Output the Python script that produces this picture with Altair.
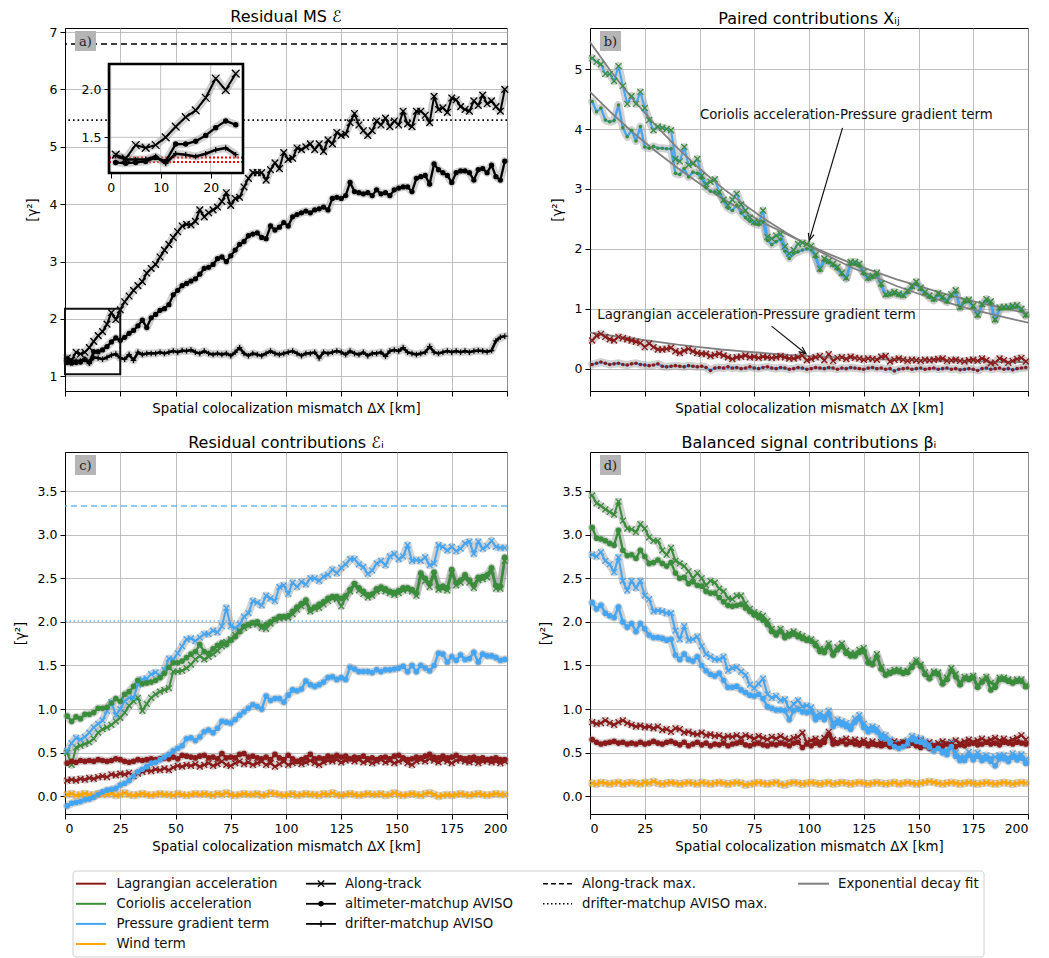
import math
import altair as alt
import pandas as pd

# ------------------------------------------------------------------ data
X_KM = list(range(1, 200, 2))          # colocalization mismatch [km]
X_TICKS = [0, 25, 50, 75, 100, 125, 150, 175, 200]

# ---- panel a : residual MS
A_ALONG = [1.32,1.28,1.42,1.39,1.42,1.50,1.61,1.71,1.78,1.91,
           2.11,1.99,2.16,2.30,2.40,2.50,2.58,2.65,2.80,2.88,
           2.95,3.08,3.20,3.30,3.42,3.52,3.62,3.65,3.64,3.70,
           3.90,3.78,3.85,3.90,3.95,4.05,4.20,3.98,4.10,4.12,
           4.30,4.45,4.55,4.55,4.55,4.42,4.60,4.72,4.62,4.90,
           4.78,4.80,4.98,4.95,5.00,5.05,4.95,5.05,4.92,5.12,
           5.05,5.25,5.20,5.22,5.42,5.58,5.38,5.28,5.20,5.28,
           5.45,5.38,5.50,5.35,5.45,5.38,5.62,5.40,5.35,5.62,
           5.62,5.55,5.42,5.88,5.65,5.68,5.60,5.85,5.82,5.70,
           5.65,5.62,5.80,5.72,5.90,5.75,5.80,5.70,5.62,6.00]
A_ALTI = [1.24,1.23,1.24,1.25,1.29,1.25,1.43,1.43,1.46,1.52,
          1.60,1.67,1.63,1.68,1.75,1.80,1.88,1.98,1.85,2.02,
          2.08,2.15,2.18,2.25,2.42,2.50,2.58,2.62,2.66,2.70,
          2.78,2.88,2.90,2.95,3.05,3.08,3.00,3.10,3.20,3.30,
          3.35,3.45,3.48,3.50,3.42,3.40,3.62,3.55,3.60,3.68,
          3.62,3.78,3.82,3.85,3.88,3.85,3.90,3.92,3.95,3.90,
          4.10,4.12,4.10,4.15,4.38,4.22,4.20,4.18,4.20,4.15,
          4.25,4.18,4.20,4.15,4.25,4.28,4.30,4.30,4.22,4.45,
          4.48,4.50,4.35,4.70,4.60,4.55,4.50,4.38,4.55,4.58,
          4.58,4.55,4.42,4.60,4.62,4.55,4.68,4.48,4.42,4.75]
A_DRIFT = [1.31,1.27,1.27,1.27,1.30,1.23,1.33,1.32,1.30,1.33,
           1.37,1.39,1.32,1.30,1.38,1.28,1.42,1.38,1.40,1.40,
           1.40,1.42,1.40,1.42,1.44,1.42,1.45,1.44,1.46,1.42,
           1.40,1.44,1.40,1.38,1.40,1.38,1.40,1.36,1.42,1.50,
           1.40,1.36,1.40,1.38,1.36,1.40,1.44,1.40,1.38,1.40,
           1.42,1.44,1.40,1.36,1.40,1.40,1.42,1.32,1.42,1.40,
           1.42,1.44,1.42,1.38,1.44,1.40,1.38,1.42,1.36,1.40,
           1.40,1.42,1.35,1.44,1.46,1.44,1.50,1.42,1.40,1.38,
           1.40,1.42,1.52,1.42,1.40,1.42,1.44,1.42,1.44,1.42,
           1.44,1.42,1.44,1.45,1.44,1.43,1.45,1.62,1.68,1.70]
A_ALONG_MAX = 6.79
A_DRIFT_MAX = 5.465
A_INSET_REF = [1.29, 1.245]
A_ZOOM = {"x": 0, "x2": 25, "y": 1.035, "y2": 2.18}
INSET_X_TICKS = [0, 10, 20]
INSET_Y_TICKS = [1.5, 2.0]

# ---- panel b : paired contributions
B_CP_ALONG = [5.18,5.12,5.08,4.92,4.92,4.80,5.05,4.72,4.42,4.55,
              4.42,4.62,4.35,4.15,3.98,4.04,4.02,4.00,3.98,3.50,
              3.46,3.70,3.40,3.42,3.50,3.22,3.08,3.12,3.16,2.95,
              2.82,2.73,2.82,2.92,2.74,2.64,2.52,2.45,2.44,2.64,
              2.20,2.17,2.22,2.25,2.04,1.92,1.98,2.08,2.10,2.08,
              2.05,1.90,1.67,1.84,1.80,1.75,1.70,1.60,1.52,1.78,
              1.78,1.75,1.62,1.52,1.55,1.60,1.42,1.24,1.26,1.28,
              1.25,1.23,1.30,1.38,1.45,1.35,1.28,1.22,1.17,1.26,
              1.20,1.14,1.24,1.31,1.03,1.14,1.15,1.05,0.90,1.08,
              1.16,1.12,0.82,1.02,1.03,1.03,1.05,1.06,1.00,0.90]
B_CP_ALTI = [4.46,4.29,4.35,4.15,4.12,4.14,4.40,4.02,3.87,3.98,
             3.80,4.04,3.70,3.68,3.71,3.68,3.68,3.67,3.67,3.26,
             3.24,3.34,3.20,3.28,3.26,3.18,3.02,2.96,2.95,2.93,
             2.80,2.68,2.64,2.73,2.60,2.52,2.46,2.42,2.40,2.45,
             2.14,2.07,2.12,2.16,1.96,1.84,1.92,1.95,1.98,2.00,
             1.98,1.86,1.64,1.80,1.77,1.72,1.66,1.57,1.50,1.74,
             1.74,1.71,1.58,1.49,1.52,1.56,1.38,1.22,1.23,1.25,
             1.22,1.21,1.27,1.35,1.41,1.32,1.25,1.19,1.14,1.23,
             1.17,1.11,1.21,1.27,1.01,1.11,1.12,1.02,0.88,1.05,
             1.13,1.08,0.80,0.99,1.00,1.00,1.02,1.03,0.97,0.88]
B_LP_ALONG = [0.47,0.55,0.58,0.53,0.49,0.47,0.53,0.51,0.49,0.47,
              0.45,0.43,0.36,0.42,0.36,0.32,0.32,0.33,0.35,0.29,
              0.26,0.30,0.33,0.29,0.26,0.25,0.25,0.21,0.23,0.25,
              0.22,0.19,0.16,0.19,0.20,0.22,0.19,0.20,0.18,0.20,
              0.19,0.18,0.19,0.21,0.19,0.17,0.17,0.19,0.22,0.14,
              0.16,0.19,0.21,0.14,0.24,0.13,0.18,0.19,0.16,0.20,
              0.18,0.17,0.15,0.17,0.16,0.15,0.20,0.21,0.12,0.15,
              0.17,0.15,0.13,0.15,0.14,0.13,0.15,0.14,0.15,0.16,
              0.17,0.13,0.14,0.15,0.13,0.12,0.14,0.15,0.13,0.17,
              0.14,0.09,0.10,0.17,0.14,0.10,0.13,0.16,0.18,0.12]
B_LP_ALTI = [0.07,0.09,0.11,0.09,0.07,0.08,0.09,0.07,0.06,0.08,
             0.09,0.07,0.06,0.05,0.06,0.08,0.04,0.03,0.04,0.05,
             0.04,0.03,0.05,0.04,0.03,0.04,0.02,-0.03,0.01,0.02,
             0.01,0.03,0.01,0.02,0.00,0.01,0.03,0.01,0.00,0.02,
             0.03,0.01,0.00,0.02,0.01,-0.01,0.00,0.02,0.01,-0.01,
             0.00,0.02,0.01,0.00,0.02,0.01,-0.01,0.01,0.00,0.02,
             0.01,0.00,-0.01,0.01,0.02,0.00,0.01,-0.01,0.00,-0.04,
             -0.01,0.00,0.01,-0.01,0.00,0.01,-0.01,0.00,0.01,-0.01,
             0.00,0.01,-0.01,0.00,-0.02,-0.01,0.00,-0.01,-0.03,0.00,
             0.01,-0.01,0.00,0.01,-0.01,0.00,-0.02,0.00,0.01,0.02]
FIT_KM = list(range(0, 201, 10))
FIT_CP_ALONG = [5.45,4.94,4.48,4.06,3.68,3.34,3.03,2.75,2.49,2.26,2.05,
                1.86,1.68,1.53,1.38,1.25,1.14,1.03,0.94,0.85,0.77]
FIT_CP_ALTI = [4.62,4.26,3.93,3.63,3.35,3.09,2.85,2.63,2.42,2.24,2.06,
               1.90,1.75,1.62,1.49,1.38,1.27,1.17,1.08,1.00,0.92]
FIT_LP_ALONG = [0.60,0.55,0.50,0.45,0.40,0.36,0.32,0.29,0.26,0.23,0.21,
                0.19,0.17,0.16,0.15,0.14,0.13,0.12,0.12,0.11,0.11]
B_TEXT = ["Coriolis acceleration-Pressure gradient term",
          "Lagrangian acceleration-Pressure gradient term"]
B_TEXT_X = [50.2, 3.3]
B_TEXT_Y = [4.24, 0.90]
B_ARROW_FROM = [(115.3, 4.02), (82.9, 0.71)]
B_ARROW_TO = [(100.1, 2.14), (98.6, 0.25)]

# ---- panel c : residual contributions
C_LAG_ALTI = [0.38,0.40,0.39,0.41,0.40,0.41,0.40,0.42,0.41,0.40,
              0.41,0.43,0.42,0.40,0.39,0.40,0.42,0.41,0.42,0.43,
              0.42,0.43,0.44,0.43,0.45,0.43,0.47,0.46,0.45,0.44,
              0.46,0.47,0.44,0.45,0.43,0.49,0.44,0.45,0.44,0.48,
              0.49,0.45,0.46,0.44,0.43,0.45,0.42,0.48,0.44,0.42,
              0.47,0.43,0.40,0.42,0.44,0.48,0.43,0.44,0.43,0.46,
              0.45,0.47,0.45,0.46,0.43,0.45,0.44,0.46,0.43,0.44,
              0.42,0.44,0.45,0.43,0.46,0.47,0.44,0.42,0.43,0.45,
              0.44,0.46,0.48,0.45,0.44,0.46,0.44,0.45,0.47,0.44,
              0.43,0.44,0.45,0.43,0.44,0.42,0.43,0.44,0.42,0.42]
C_LAG_ALONG = [0.18,0.19,0.18,0.20,0.19,0.21,0.20,0.22,0.23,0.22,
               0.25,0.24,0.26,0.25,0.27,0.23,0.26,0.28,0.30,0.29,
               0.31,0.30,0.32,0.30,0.33,0.35,0.34,0.36,0.35,0.37,
               0.34,0.36,0.38,0.35,0.37,0.40,0.36,0.35,0.38,0.40,
               0.37,0.39,0.36,0.38,0.40,0.36,0.38,0.34,0.37,0.40,
               0.36,0.38,0.40,0.37,0.39,0.41,0.38,0.36,0.39,0.41,
               0.40,0.42,0.39,0.41,0.43,0.40,0.42,0.39,0.41,0.38,
               0.40,0.42,0.39,0.41,0.38,0.40,0.42,0.38,0.36,0.40,
               0.42,0.40,0.43,0.41,0.39,0.42,0.40,0.38,0.41,0.42,
               0.40,0.39,0.41,0.38,0.40,0.41,0.39,0.40,0.38,0.40]
C_COR_ALTI = [0.92,0.86,0.91,0.89,0.94,0.94,0.96,1.01,1.01,1.02,
              1.07,1.12,1.09,1.17,1.20,1.26,1.33,1.29,1.30,1.31,
              1.33,1.36,1.41,1.48,1.53,1.53,1.55,1.59,1.63,1.66,
              1.74,1.66,1.64,1.69,1.73,1.76,1.74,1.79,1.83,1.89,
              1.95,1.97,1.99,2.00,1.95,1.97,2.00,2.03,2.06,2.06,
              2.07,2.12,2.17,2.21,2.25,2.14,2.17,2.20,2.23,2.27,
              2.29,2.29,2.27,2.30,2.37,2.44,2.39,2.35,2.31,2.32,
              2.38,2.40,2.38,2.35,2.34,2.36,2.39,2.39,2.37,2.33,
              2.56,2.50,2.44,2.57,2.40,2.41,2.39,2.60,2.45,2.48,
              2.54,2.48,2.42,2.51,2.52,2.54,2.62,2.42,2.41,2.74]
C_COR_ALONG = [0.50,0.36,0.56,0.58,0.60,0.62,0.66,0.73,0.77,0.79,
               0.82,0.86,0.90,0.96,1.04,1.09,1.13,0.98,1.06,1.13,
               1.17,1.20,1.22,1.24,1.43,1.43,1.44,1.47,1.51,1.57,
               1.61,1.57,1.60,1.63,1.67,1.72,1.77,1.80,1.85,1.90,
               1.93,1.96,1.98,1.97,1.93,1.92,1.98,2.02,2.04,2.05,
               2.05,2.09,2.14,2.18,2.22,2.12,2.15,2.16,2.20,2.24,
               2.27,2.26,2.18,2.28,2.35,2.42,2.36,2.32,2.28,2.30,
               2.35,2.37,2.35,2.33,2.31,2.33,2.36,2.37,2.35,2.30,
               2.52,2.47,2.40,2.54,2.37,2.38,2.36,2.56,2.42,2.45,
               2.50,2.45,2.39,2.48,2.49,2.51,2.58,2.38,2.38,2.70]
C_PG_ALTI = [-0.11,-0.08,-0.07,-0.06,-0.04,-0.03,-0.01,0.02,0.05,0.07,
             0.08,0.09,0.13,0.15,0.18,0.23,0.28,0.31,0.34,0.38,
             0.39,0.42,0.45,0.48,0.52,0.55,0.58,0.66,0.67,0.64,
             0.68,0.74,0.76,0.73,0.78,0.86,0.85,0.84,0.88,0.93,
             0.97,1.01,1.05,1.03,1.00,1.15,1.10,1.12,1.12,1.08,
             1.16,1.22,1.21,1.23,1.32,1.28,1.26,1.28,1.31,1.36,
             1.37,1.34,1.36,1.34,1.48,1.46,1.43,1.43,1.43,1.42,
             1.45,1.43,1.45,1.45,1.46,1.47,1.49,1.43,1.50,1.43,
             1.50,1.47,1.44,1.50,1.64,1.63,1.54,1.60,1.56,1.62,
             1.57,1.58,1.65,1.54,1.63,1.61,1.61,1.59,1.56,1.57]
C_PG_ALONG = [0.52,0.61,0.67,0.65,0.68,0.73,0.79,0.83,0.87,0.98,
              1.08,0.93,1.00,1.09,1.13,1.13,1.28,1.34,1.35,1.40,
              1.42,1.38,1.45,1.58,1.57,1.64,1.72,1.80,1.81,1.78,
              1.82,1.86,1.86,1.90,1.88,1.95,2.16,1.95,1.93,1.97,
              2.06,2.10,2.24,2.22,2.19,2.30,2.27,2.24,2.40,2.42,
              2.32,2.45,2.40,2.46,2.43,2.50,2.50,2.47,2.52,2.54,
              2.60,2.56,2.62,2.66,2.72,2.72,2.66,2.63,2.55,2.59,
              2.67,2.70,2.65,2.75,2.78,2.72,2.75,2.88,2.70,2.71,
              2.70,2.74,2.65,2.67,2.88,2.86,2.82,2.86,2.81,2.84,
              2.90,2.92,2.78,2.92,2.84,2.87,2.93,2.86,2.85,2.85]
C_WIND = [0.02,0.03,0.01,0.02,0.03,0.02,0.01,0.03,0.02,0.02,
          0.03,0.01,0.02,0.04,0.02,0.01,0.02,0.03,0.02,0.01,
          0.02,0.03,0.02,0.02,0.01,0.03,0.02,0.01,0.02,0.03,
          0.02,0.03,0.02,0.01,0.03,0.02,0.04,0.02,0.01,0.02,
          0.03,0.02,0.02,0.03,0.01,0.02,0.04,0.03,0.02,0.01,
          0.02,0.03,0.01,0.02,0.03,0.02,0.02,0.01,0.03,0.02,
          0.04,0.02,0.01,0.02,0.03,0.02,0.01,0.02,0.03,0.02,
          0.02,0.03,0.01,0.02,0.04,0.02,0.01,0.02,0.03,0.02,
          0.01,0.03,0.04,0.02,0.00,0.01,0.02,0.01,0.02,0.03,
          0.02,0.01,0.02,0.03,0.02,0.01,0.02,0.03,0.02,0.02]
C_PG_ALONG_MAX = 3.33
C_PG_DRIFT_MAX = 2.01

# ---- panel d : balanced signal contributions
D_COR_ALONG = [3.45,3.36,3.33,3.29,3.26,3.23,3.38,3.16,3.07,3.06,
               3.03,3.12,3.07,2.97,2.93,2.93,2.82,2.77,2.85,2.70,
               2.67,2.64,2.58,2.50,2.56,2.50,2.42,2.47,2.45,2.38,
               2.35,2.27,2.26,2.30,2.30,2.21,2.15,2.11,2.09,2.07,
               2.01,1.92,1.88,1.92,1.85,1.87,1.89,1.86,1.84,1.81,
               1.80,1.76,1.69,1.68,1.75,1.65,1.71,1.75,1.67,1.64,
               1.64,1.68,1.70,1.56,1.53,1.63,1.48,1.41,1.43,1.45,
               1.45,1.43,1.44,1.50,1.56,1.51,1.42,1.37,1.43,1.42,
               1.31,1.36,1.47,1.40,1.30,1.37,1.36,1.38,1.27,1.33,
               1.37,1.30,1.28,1.36,1.36,1.34,1.32,1.34,1.34,1.27]
D_COR_ALTI = [3.08,2.96,2.95,2.93,2.90,2.88,3.05,2.82,2.76,2.77,
              2.73,2.82,2.75,2.67,2.68,2.71,2.67,2.64,2.68,2.56,
              2.50,2.51,2.44,2.46,2.42,2.41,2.35,2.33,2.33,2.28,
              2.23,2.19,2.18,2.19,2.20,2.16,2.12,2.08,2.05,2.02,
              1.97,1.89,1.85,1.89,1.82,1.84,1.86,1.83,1.81,1.79,
              1.78,1.73,1.66,1.65,1.72,1.62,1.68,1.72,1.64,1.61,
              1.61,1.65,1.66,1.53,1.51,1.60,1.46,1.39,1.41,1.43,
              1.43,1.41,1.42,1.48,1.54,1.49,1.40,1.35,1.41,1.40,
              1.29,1.34,1.44,1.37,1.28,1.35,1.34,1.36,1.25,1.31,
              1.35,1.22,1.25,1.34,1.34,1.32,1.30,1.32,1.32,1.26]
D_PG_ALONG = [2.77,2.75,2.80,2.70,2.66,2.57,2.74,2.47,2.36,2.47,
              2.39,2.47,2.30,2.26,2.12,2.13,2.12,2.10,2.10,1.90,
              1.80,1.95,1.79,1.80,1.83,1.72,1.63,1.60,1.57,1.57,
              1.60,1.44,1.47,1.48,1.43,1.39,1.28,1.24,1.29,1.35,
              1.17,1.13,1.15,1.10,1.11,1.00,1.06,1.10,1.03,1.04,
              1.02,0.92,0.95,0.92,0.98,0.84,0.88,0.86,0.84,0.81,
              0.89,0.93,0.83,0.78,0.80,0.78,0.71,0.70,0.65,0.61,
              0.59,0.61,0.64,0.69,0.67,0.66,0.63,0.60,0.56,0.59,
              0.54,0.52,0.61,0.50,0.45,0.45,0.51,0.46,0.50,0.45,
              0.47,0.44,0.45,0.47,0.47,0.44,0.49,0.46,0.48,0.42]
D_PG_ALTI = [2.22,2.15,2.19,2.10,2.07,2.05,2.17,2.00,1.94,1.98,
             1.89,1.98,1.92,1.85,1.82,1.82,1.81,1.79,1.80,1.62,
             1.57,1.63,1.57,1.55,1.60,1.50,1.44,1.40,1.38,1.41,
             1.33,1.25,1.25,1.26,1.22,1.19,1.16,1.15,1.17,1.12,
             1.03,1.01,0.99,0.99,0.98,0.88,0.98,1.00,0.97,0.96,
             0.97,0.88,0.91,0.88,0.94,0.80,0.84,0.82,0.80,0.77,
             0.85,0.89,0.79,0.74,0.76,0.74,0.67,0.66,0.61,0.57,
             0.55,0.57,0.60,0.65,0.63,0.62,0.59,0.56,0.52,0.55,
             0.50,0.48,0.57,0.46,0.41,0.41,0.47,0.42,0.46,0.41,
             0.43,0.40,0.35,0.43,0.43,0.40,0.45,0.42,0.44,0.38]
D_LAG_ALONG = [0.85,0.83,0.84,0.87,0.84,0.82,0.85,0.87,0.84,0.82,
               0.80,0.81,0.79,0.80,0.78,0.80,0.76,0.77,0.74,0.78,
               0.77,0.73,0.74,0.72,0.71,0.73,0.70,0.71,0.69,0.70,
               0.67,0.69,0.68,0.70,0.67,0.70,0.68,0.66,0.69,0.67,
               0.65,0.68,0.66,0.69,0.66,0.64,0.67,0.68,0.73,0.62,
               0.64,0.66,0.63,0.67,0.74,0.65,0.62,0.64,0.66,0.63,
               0.65,0.62,0.64,0.61,0.63,0.60,0.62,0.59,0.61,0.63,
               0.60,0.62,0.59,0.63,0.61,0.64,0.60,0.62,0.59,0.61,
               0.63,0.60,0.62,0.64,0.61,0.63,0.65,0.62,0.64,0.66,
               0.63,0.65,0.67,0.64,0.66,0.63,0.65,0.67,0.70,0.65]
D_LAG_ALTI = [0.65,0.62,0.60,0.61,0.62,0.63,0.61,0.62,0.60,0.61,
              0.60,0.62,0.60,0.61,0.63,0.61,0.60,0.62,0.63,0.61,
              0.59,0.62,0.58,0.60,0.62,0.59,0.61,0.58,0.60,0.59,
              0.61,0.58,0.60,0.61,0.62,0.59,0.58,0.60,0.61,0.59,
              0.58,0.60,0.59,0.61,0.60,0.58,0.61,0.62,0.56,0.60,
              0.58,0.61,0.59,0.62,0.71,0.60,0.61,0.63,0.60,0.62,
              0.60,0.59,0.61,0.58,0.60,0.59,0.58,0.60,0.57,0.59,
              0.60,0.62,0.59,0.61,0.58,0.56,0.58,0.55,0.57,0.59,
              0.58,0.60,0.59,0.57,0.59,0.58,0.60,0.61,0.59,0.60,
              0.62,0.60,0.61,0.59,0.62,0.61,0.60,0.62,0.61,0.60]
D_WIND = [0.15,0.14,0.16,0.15,0.14,0.15,0.16,0.14,0.15,0.16,
          0.15,0.14,0.16,0.15,0.17,0.15,0.14,0.15,0.16,0.15,
          0.14,0.15,0.16,0.15,0.14,0.16,0.15,0.14,0.15,0.16,
          0.15,0.14,0.15,0.16,0.15,0.13,0.14,0.15,0.16,0.15,
          0.14,0.15,0.16,0.14,0.13,0.15,0.16,0.15,0.14,0.15,
          0.16,0.15,0.14,0.15,0.16,0.14,0.15,0.16,0.15,0.14,
          0.15,0.16,0.15,0.14,0.15,0.16,0.15,0.14,0.15,0.16,
          0.14,0.15,0.16,0.15,0.14,0.15,0.16,0.17,0.16,0.15,
          0.14,0.15,0.16,0.15,0.14,0.15,0.16,0.15,0.14,0.15,
          0.16,0.15,0.14,0.15,0.16,0.15,0.14,0.15,0.16,0.15]

# ---- legend text
LEG_TERMS = ["Lagrangian acceleration", "Coriolis acceleration",
             "Pressure gradient term", "Wind term"]
LEG_TYPES = ["Along-track", "altimeter-matchup AVISO", "drifter-matchup AVISO"]
LEG_MAX = ["Along-track max.", "drifter-matchup AVISO max."]
LEG_FIT = ["Exponential decay fit"]

# ------------------------------------------------------------------ styles
FONT = "DejaVu Sans"
TERM_KEYS = ["lag", "cor", "pg", "wind", "tot"]
TERM_COLORS = ["#8b1a1a", "#3a8d3a", "#44a5f2", "#ffa500", "#000000"]
CSCALE = alt.Scale(domain=TERM_KEYS, range=TERM_COLORS)
MARKERS = ["x", "o", "+"]
XPATH = "M-1,-1L1,1M-1,1L1,-1"
PLUSPATH = "M-1,0L1,0M0,-1L0,1"
ARROWPATH = "M-0.42,1L0,0L0.42,1"
GRID = "#b0b0b0"
XTITLE = "Spatial colocalization mismatch ΔX [km]"
YTITLE = "[γ²]"
W_L, W_R, H_T, H_B = 442, 438, 363, 362
A_DOM = [0.745, 7.07]
B_DOM = [-0.373, 5.686]
CD_DOM = [-0.203, 3.948]

for arr in [A_ALONG, A_ALTI, A_DRIFT, B_CP_ALONG, B_CP_ALTI, B_LP_ALONG, B_LP_ALTI,
            C_LAG_ALTI, C_LAG_ALONG, C_COR_ALTI, C_COR_ALONG, C_PG_ALTI, C_PG_ALONG, C_WIND,
            D_COR_ALONG, D_COR_ALTI, D_PG_ALONG, D_PG_ALTI, D_LAG_ALONG, D_LAG_ALTI, D_WIND]:
    assert len(arr) == len(X_KM), len(arr)


def long_frame(specs):
    rows = []
    for name, vals, lt, mt, m in specs:
        for xv, yv in zip(X_KM, vals):
            rows.append({"x": xv, "y": yv, "s": name, "lt": lt, "mt": mt, "m": m})
    return pd.DataFrame(rows)


def x_axis(labels):
    return alt.Axis(values=X_TICKS, labels=labels, title=XTITLE, grid=True,
                    tickSize=5, labelPadding=3, titlePadding=5, format="d")


def y_axis(values, fmt):
    return alt.Axis(values=values, title=YTITLE, grid=True, tickSize=5,
                    labelPadding=3, titlePadding=10, format=fmt)


def series_layers(df, xe, ye, widths, halo, msz):
    base = alt.Chart(df)
    col_m = alt.Color("mt:N", scale=CSCALE, legend=None)
    layers = [
        base.mark_line(color="#9a9a9a", opacity=0.45, strokeWidth=halo,
                       strokeJoin="round", strokeCap="round").encode(x=xe, y=ye, detail="s:N"),
        base.mark_line(strokeJoin="round").encode(
            x=xe, y=ye, detail="s:N",
            color=alt.Color("lt:N", scale=CSCALE, legend=None),
            strokeWidth=alt.StrokeWidth("m:N", scale=alt.Scale(domain=MARKERS, range=widths), legend=None)),
        base.transform_filter("datum.m == 'x'").mark_point(
            shape=XPATH, filled=False, strokeWidth=1.3, size=msz[0], opacity=1).encode(x=xe, y=ye, color=col_m),
        base.transform_filter("datum.m == 'o'").mark_circle(
            size=msz[1], opacity=1).encode(x=xe, y=ye, color=col_m),
        base.transform_filter("datum.m == '+'").mark_point(
            shape=PLUSPATH, filled=False, strokeWidth=1.2, size=msz[2], opacity=1).encode(x=xe, y=ye, color=col_m),
    ]
    return layers


def tag_layers(t):
    d = pd.DataFrame({"t": [t]})
    return [
        alt.Chart(d).mark_rect(fill="#b5b5b5").encode(
            x=alt.value(10), x2=alt.value(31), y=alt.value(3), y2=alt.value(23)),
        alt.Chart(d).mark_text(font="DejaVu Serif", fontSize=13, color="#222").encode(
            x=alt.value(20.5), y=alt.value(13.5), text="t:N"),
    ]


def title(t):
    return alt.TitleParams(t, fontSize=16, fontWeight="normal", font=FONT, offset=1, color="#000")


XS = alt.Scale(domain=[0, 200], nice=False, zero=False)

# ------------------------------------------------------------------ panel a
a_df = long_frame([("at", A_ALONG, "tot", "tot", "x"),
                   ("am", A_ALTI, "tot", "tot", "o"),
                   ("dm", A_DRIFT, "tot", "tot", "+")])
a_ys = alt.Scale(domain=A_DOM, nice=False, zero=False)
a_xe = alt.X("x:Q", scale=XS, axis=x_axis(False))
a_ye = alt.Y("y:Q", scale=a_ys, axis=y_axis([1, 2, 3, 4, 5, 6, 7], "d"))

a_main = alt.layer(
    *series_layers(a_df, a_xe, a_ye, [2.0, 2.6, 1.5], 8, [45, 28, 30]),
    alt.Chart(pd.DataFrame({"y": [A_ALONG_MAX]})).mark_rule(
        color="black", strokeWidth=1.5, strokeDash=[6, 4]).encode(y=a_ye),
    alt.Chart(pd.DataFrame({"y": [A_DRIFT_MAX]})).mark_rule(
        color="black", strokeWidth=1.6, strokeDash=[1.6, 3]).encode(y=a_ye),
    alt.Chart(pd.DataFrame([A_ZOOM])).mark_rect(
        fill="transparent", stroke="#111", strokeWidth=2).encode(
        x=a_xe, x2="x2:Q", y=a_ye, y2="y2:Q"),
    *tag_layers("a)"),
)

# inset placed on the left of panel a (pixel ranges inside the plot area)
IN_X0, IN_X1, IN_Y0, IN_Y1 = 44, 178, 36, 145
in_xs = alt.Scale(domain=[-0.34, 26.46], range=[IN_X0, IN_X1], nice=False, zero=False)
in_ys = alt.Scale(domain=[1.13, 2.26], range=[IN_Y1, IN_Y0], nice=False, zero=False)
in_xax = alt.Axis(orient="bottom", offset=IN_Y1 - H_T, values=INSET_X_TICKS, title=None,
                  grid=False, tickSize=5, labelPadding=3, format="d", domain=False)
in_yax = alt.Axis(orient="left", offset=-IN_X0, values=INSET_Y_TICKS, title=None,
                  grid=False, tickSize=5, labelPadding=3, format=".1f", domain=False)
in_xe = alt.X("x:Q", scale=in_xs, axis=in_xax)
in_ye = alt.Y("y:Q", scale=in_ys, axis=in_yax)
in_df = a_df[a_df["x"] <= 26]
box = pd.DataFrame({"k": [0]})
a_inset = alt.layer(
    alt.Chart(box).mark_rect(fill="white").encode(
        x=alt.value(IN_X0), x2=alt.value(IN_X1), y=alt.value(IN_Y0), y2=alt.value(IN_Y1)),
    alt.Chart(pd.DataFrame({"x": INSET_X_TICKS})).mark_rule(color=GRID, strokeWidth=0.8).encode(
        x=in_xe, y=alt.value(IN_Y0), y2=alt.value(IN_Y1)),
    alt.Chart(pd.DataFrame({"y": INSET_Y_TICKS})).mark_rule(color=GRID, strokeWidth=0.8).encode(
        y=in_ye, x=alt.value(IN_X0), x2=alt.value(IN_X1)),
    alt.Chart(pd.DataFrame({"y": A_INSET_REF})).mark_rule(
        color="red", strokeWidth=2, strokeDash=[2, 2]).encode(
        y=in_ye, x=alt.value(IN_X0), x2=alt.value(IN_X1)),
    *series_layers(in_df, in_xe, in_ye, [2.0, 2.6, 1.5], 8, [60, 30, 30]),
    alt.Chart(box).mark_rect(fill="transparent", stroke="black", strokeWidth=2.6).encode(
        x=alt.value(IN_X0), x2=alt.value(IN_X1), y=alt.value(IN_Y0), y2=alt.value(IN_Y1)),
)
panel_a = alt.layer(a_main, a_inset).resolve_scale(x="independent", y="independent").properties(
    width=W_L, height=H_T, title=title("Residual MS ℰ"))

# ------------------------------------------------------------------ panel b
b_df = long_frame([("cp_at", B_CP_ALONG, "pg", "cor", "x"),
                   ("cp_am", B_CP_ALTI, "pg", "cor", "o"),
                   ("lp_at", B_LP_ALONG, "lag", "lag", "x"),
                   ("lp_am", B_LP_ALTI, "pg", "lag", "o")])
b_ys = alt.Scale(domain=B_DOM, nice=False, zero=False)
b_xe = alt.X("x:Q", scale=XS, axis=x_axis(False))
b_ye = alt.Y("y:Q", scale=b_ys, axis=y_axis([0, 1, 2, 3, 4, 5], "d"))
fit_rows = []
for name, vals in [("f1", FIT_CP_ALONG), ("f2", FIT_CP_ALTI), ("f3", FIT_LP_ALONG)]:
    for xv, yv in zip(FIT_KM, vals):
        fit_rows.append({"x": xv, "y": yv, "f": name})
fit_df = pd.DataFrame(fit_rows)

px_x = W_R / 200.0
px_y = H_T / (B_DOM[1] - B_DOM[0])
arrow_rows = []
for (x0, y0), (x1, y1) in zip(B_ARROW_FROM, B_ARROW_TO):
    dxp = (x1 - x0) * px_x
    dyp = -(y1 - y0) * px_y
    ang = math.degrees(math.atan2(dxp, -dyp)) % 360
    arrow_rows.append({"x": x0, "y": y0, "x2": x1, "y2": y1, "xe": x1, "ye": y1, "ang": ang})
arrow_df = pd.DataFrame(arrow_rows)
text_df = pd.DataFrame({"x": B_TEXT_X, "y": B_TEXT_Y, "t": B_TEXT})

b_layers = series_layers(b_df, b_xe, b_ye, [2.8, 2.8, 2.0], 8, [36, 13, 30])
panel_b = alt.layer(
    *b_layers[:2],
    alt.Chart(fit_df).mark_line(color="#808080", strokeWidth=1.8).encode(x=b_xe, y=b_ye, detail="f:N"),
    *b_layers[2:],
    alt.Chart(text_df).mark_text(align="left", baseline="middle", fontSize=13.3, font=FONT, color="#111").encode(
        x=b_xe, y=b_ye, text="t:N"),
    alt.Chart(arrow_df).mark_rule(color="#111", strokeWidth=1.2).encode(
        x=b_xe, y=b_ye, x2="x2:Q", y2="y2:Q"),
    alt.Chart(arrow_df).mark_point(shape=ARROWPATH, filled=False, color="#111", strokeWidth=1.2,
                                   size=200, opacity=1).encode(
        x=alt.X("xe:Q", scale=XS, axis=x_axis(False)),
        y=alt.Y("ye:Q", scale=b_ys, axis=y_axis([0, 1, 2, 3, 4, 5], "d")),
        angle=alt.Angle("ang:Q", scale=None)),
    *tag_layers("b)"),
).properties(width=W_R, height=H_T, title=title("Paired contributions Xᵢⱼ"))

# ------------------------------------------------------------------ panel c
cd_ys = alt.Scale(domain=CD_DOM, nice=False, zero=False)
CD_YT = [0.0, 0.5, 1.0, 1.5, 2.0, 2.5, 3.0, 3.5]
c_df = long_frame([("wi", C_WIND, "wind", "wind", "x"),
                   ("la_am", C_LAG_ALTI, "lag", "lag", "o"),
                   ("la_at", C_LAG_ALONG, "lag", "lag", "x"),
                   ("pg_am", C_PG_ALTI, "pg", "pg", "o"),
                   ("co_at", C_COR_ALONG, "cor", "cor", "x"),
                   ("co_am", C_COR_ALTI, "cor", "cor", "o"),
                   ("pg_at", C_PG_ALONG, "pg", "pg", "x")])
c_xe = alt.X("x:Q", scale=XS, axis=x_axis(True))
c_ye = alt.Y("y:Q", scale=cd_ys, axis=y_axis(CD_YT, ".1f"))
panel_c = alt.layer(
    alt.Chart(pd.DataFrame({"y": [C_PG_ALONG_MAX]})).mark_rule(
        color="#44a5f2", opacity=0.8, strokeWidth=1.5, strokeDash=[6, 4]).encode(y=c_ye),
    alt.Chart(pd.DataFrame({"y": [C_PG_DRIFT_MAX]})).mark_rule(
        color="#44a5f2", opacity=0.8, strokeWidth=1.7, strokeDash=[1.5, 2.5]).encode(y=c_ye),
    *series_layers(c_df, c_xe, c_ye, [3, 3, 3], 8, [34, 32, 30]),
    *tag_layers("c)"),
).properties(width=W_L, height=H_B, title=title("Residual contributions ℰᵢ"))

# ------------------------------------------------------------------ panel d
d_df = long_frame([("wi", D_WIND, "wind", "wind", "x"),
                   ("la_am", D_LAG_ALTI, "lag", "lag", "o"),
                   ("la_at", D_LAG_ALONG, "lag", "lag", "x"),
                   ("pg_am", D_PG_ALTI, "pg", "pg", "o"),
                   ("pg_at", D_PG_ALONG, "pg", "pg", "x"),
                   ("co_am", D_COR_ALTI, "cor", "cor", "o"),
                   ("co_at", D_COR_ALONG, "cor", "cor", "x")])
d_xe = alt.X("x:Q", scale=XS, axis=x_axis(True))
d_ye = alt.Y("y:Q", scale=cd_ys, axis=y_axis(CD_YT, ".1f"))
panel_d = alt.layer(
    *series_layers(d_df, d_xe, d_ye, [3, 3, 3], 8, [34, 32, 30]),
    *tag_layers("d)"),
).properties(width=W_R, height=H_B, title=title("Balanced signal contributions βᵢ"))

# ------------------------------------------------------------------ legend panel
leg_rows = []
for r, (lab, key) in enumerate(zip(LEG_TERMS, ["lag", "cor", "pg", "wind"])):
    leg_rows.append({"label": lab, "col": 0, "row": r, "key": key, "m": ""})
for r, (lab, m) in enumerate(zip(LEG_TYPES, MARKERS)):
    leg_rows.append({"label": lab, "col": 1, "row": r, "key": "tot", "m": m})
for r, (lab, m) in enumerate(zip(LEG_MAX, ["dash", "dot"])):
    leg_rows.append({"label": lab, "col": 2, "row": r, "key": "tot", "m": m})
for r, lab in enumerate(LEG_FIT):
    leg_rows.append({"label": lab, "col": 3, "row": r, "key": "tot", "m": "fit"})
leg_df = pd.DataFrame(leg_rows)

LEG_W, LEG_H = 919, 86
leg_base = alt.Chart(leg_df).transform_calculate(
    lx="[11, 241, 478, 733][datum.col]",
    lx2="[41, 271, 507, 764][datum.col]",
    mx="[26, 256, 492, 748][datum.col]",
    tx="[51.5, 280, 517, 773][datum.col]",
    ty="12.7 + datum.row * 20.1",
)
LX = alt.X("lx:Q", scale=None, axis=None)
LX2 = alt.X2("lx2:Q")
MX = alt.X("mx:Q", scale=None, axis=None)
TY = alt.Y("ty:Q", scale=None, axis=None)
legend = alt.layer(
    alt.Chart(pd.DataFrame({"k": [0]})).mark_rect(
        fill="white", stroke="#d0d0d0", strokeWidth=1, cornerRadius=3).encode(
        x=alt.value(8), x2=alt.value(LEG_W), y=alt.value(0), y2=alt.value(LEG_H)),
    leg_base.transform_filter("datum.col == 0").mark_rule(strokeWidth=2).encode(
        x=LX, x2=LX2, y=TY, color=alt.Color("key:N", scale=CSCALE, legend=None)),
    leg_base.transform_filter("datum.col == 1").mark_rule(color="black", strokeWidth=1.8).encode(
        x=LX, x2=LX2, y=TY),
    leg_base.transform_filter("datum.m == 'x'").mark_point(
        shape=XPATH, filled=False, color="black", strokeWidth=1.3, size=40, opacity=1).encode(x=MX, y=TY),
    leg_base.transform_filter("datum.m == 'o'").mark_circle(
        color="black", size=30, opacity=1).encode(x=MX, y=TY),
    leg_base.transform_filter("datum.m == '+'").mark_point(
        shape=PLUSPATH, filled=False, color="black", strokeWidth=1.3, size=40, opacity=1).encode(x=MX, y=TY),
    leg_base.transform_filter("datum.m == 'dash'").mark_rule(
        color="black", strokeWidth=1.6, strokeDash=[5, 3]).encode(x=LX, x2=LX2, y=TY),
    leg_base.transform_filter("datum.m == 'dot'").mark_rule(
        color="black", strokeWidth=1.6, strokeDash=[1.5, 2.5]).encode(x=LX, x2=LX2, y=TY),
    leg_base.transform_filter("datum.m == 'fit'").mark_rule(
        color="#808080", strokeWidth=2).encode(x=LX, x2=LX2, y=TY),
    leg_base.mark_text(align="left", baseline="middle", fontSize=13.3, font=FONT, color="#111").encode(
        x=alt.X("tx:Q", scale=None, axis=None), y=TY, text="label:N"),
).properties(width=LEG_W, height=LEG_H, view=alt.ViewBackground(stroke="transparent"))

# ------------------------------------------------------------------ layout
grid = alt.concat(panel_a, panel_b, panel_c, panel_d, columns=2, bounds="flush",
                  spacing=alt.RowColnumber(row=61, column=83))
chart = alt.vconcat(grid, legend, spacing=16).properties(
    padding={"left": 4, "top": 0, "right": 4, "bottom": 0}
).configure(font=FONT).configure_view(
    stroke="black", strokeWidth=1
).configure_axis(
    labelFont=FONT, labelFontSize=12.5, labelColor="#000",
    titleFont=FONT, titleFontSize=13.3, titleFontWeight="normal", titleColor="#000",
    tickColor="#000", domainColor="#000", domainWidth=1, tickWidth=1,
    gridColor=GRID, gridWidth=0.8,
).configure_title(font=FONT, fontWeight="normal", color="#000")

chart.save("out.html", embed_options={"renderer": "svg", "actions": False})
